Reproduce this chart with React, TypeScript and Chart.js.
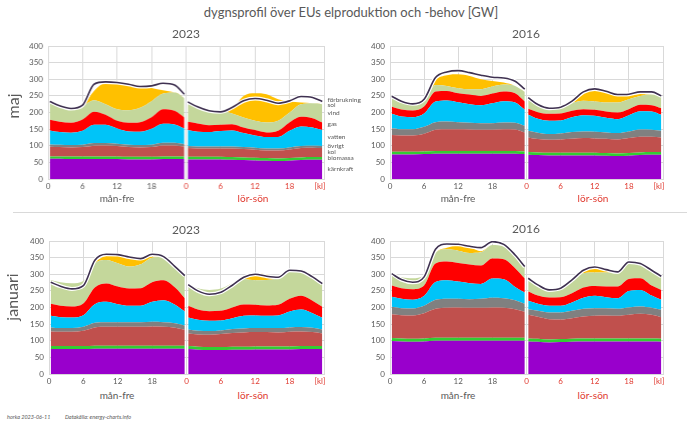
import React, { useEffect, useRef } from "react";
import { Chart, registerables } from "chart.js";
Chart.register(...registerables);

// hour positions of the profile points in each day (day 2 is shifted by 24)
const HOURS = [0.3, 2, 4, 6, 8, 10, 12, 14, 16, 18, 20, 22, 23.7];
const X_TICKS = [0, 6, 12, 18, 24, 30, 36, 42, 47.3, 48];
const Y_TICKS_STEP = 50;

// ---------- maj 2023 (13 values mån-fre, then 13 values lör-sön) [GW]
const maj2023_karnkraft = [61, 61, 60, 60, 60, 60, 60, 59, 59, 59, 60, 60, 60, 59, 59, 59, 59, 58, 57, 56, 55, 54, 55, 57, 58, 58];
const maj2023_biomassa = [7, 7, 8, 8, 8, 8, 8, 8, 8, 8, 8, 8, 8, 8, 8, 8, 8, 8, 8, 8, 8, 8, 8, 8, 8, 8];
const maj2023_kol = [29, 28, 27, 28, 32, 33, 31, 29, 28, 29, 33, 33, 30, 26, 25, 25, 25, 26, 25, 24, 23, 24, 26, 28, 28, 27];
const maj2023_ovrigt = [7, 7, 7, 7, 8, 7, 7, 7, 7, 7, 8, 8, 7, 6, 6, 6, 6, 6, 6, 6, 6, 6, 6, 6, 6, 6];
const maj2023_vatten = [42, 38, 37, 42, 55, 55, 46, 40, 40, 48, 57, 55, 47, 48, 44, 43, 46, 48, 42, 37, 34, 34, 50, 59, 55, 48];
const maj2023_gas = [32, 31, 30, 34, 39, 30, 23, 26, 29, 35, 44, 41, 33, 25, 25, 21, 19, 19, 17, 16, 14, 19, 25, 29, 28, 23];
const maj2023_vind = [52, 47, 41, 41, 35, 32, 35, 38, 43, 48, 47, 55, 58, 58, 48, 45, 42, 32, 30, 28, 30, 30, 30, 38, 45, 55];
const maj2023_sol = [0, 0, 0, 0, 28, 65, 83, 82, 68, 40, 10, 0, 0, 0, 0, 0, 0, 15, 65, 83, 85, 65, 33, 5, 0, 0];
const maj2023_forbrukning = [233, 220, 212, 222, 285, 292, 290, 285, 278, 280, 288, 283, 255, 232, 217, 205, 202, 215, 235, 242, 237, 228, 235, 248, 245, 233];

// ---------- maj 2016
const maj2016_karnkraft = [74, 74, 74, 75, 76, 76, 76, 76, 76, 76, 76, 76, 75, 73, 72, 71, 71, 71, 71, 71, 70, 69, 70, 72, 73, 73];
const maj2016_biomassa = [8, 8, 8, 8, 8, 8, 8, 8, 8, 8, 8, 8, 8, 8, 8, 8, 8, 8, 8, 8, 8, 8, 8, 8, 8, 8];
const maj2016_kol = [50, 49, 49, 53, 64, 66, 66, 65, 64, 64, 66, 65, 57, 44, 40, 39, 40, 42, 44, 43, 43, 42, 45, 47, 46, 44];
const maj2016_ovrigt = [21, 19, 19, 21, 23, 23, 21, 20, 20, 20, 20, 20, 20, 20, 19, 17, 18, 20, 20, 20, 19, 19, 20, 22, 21, 20];
const maj2016_vatten = [43, 38, 36, 40, 62, 63, 60, 56, 54, 60, 64, 61, 48, 48, 42, 40, 39, 45, 49, 48, 44, 42, 49, 55, 55, 48];
const maj2016_gas = [21, 21, 20, 21, 30, 29, 27, 29, 28, 29, 29, 28, 25, 18, 20, 21, 21, 19, 18, 18, 19, 20, 18, 19, 19, 20];
const maj2016_vind = [28, 20, 20, 19, 20, 15, 15, 16, 20, 21, 21, 22, 29, 29, 21, 19, 21, 23, 25, 25, 27, 30, 30, 27, 32, 35];
const maj2016_sol = [0, 0, 0, 0, 14, 32, 42, 40, 30, 17, 6, 0, 0, 0, 0, 0, 0, 5, 30, 39, 33, 24, 13, 6, 0, 0];
const maj2016_forbrukning = [249, 234, 226, 240, 305, 322, 326, 320, 312, 306, 304, 294, 270, 245, 224, 213, 216, 234, 262, 271, 264, 254, 255, 262, 262, 250];

// ---------- januari 2023
const jan2023_karnkraft = [75, 75, 75, 75, 76, 76, 76, 76, 76, 76, 76, 76, 76, 75, 73, 72, 72, 73, 73, 74, 74, 74, 74, 75, 75, 75];
const jan2023_biomassa = [9, 9, 9, 9, 9, 9, 9, 9, 9, 9, 9, 9, 9, 9, 9, 9, 9, 9, 9, 9, 9, 9, 9, 9, 9, 9];
const jan2023_kol = [44, 43, 43, 46, 55, 57, 57, 57, 57, 58, 57, 54, 48, 38, 37, 37, 39, 41, 43, 43, 43, 42, 44, 44, 42, 38];
const jan2023_ovrigt = [12, 11, 11, 12, 14, 14, 14, 14, 14, 14, 14, 14, 13, 12, 11, 11, 11, 12, 12, 12, 12, 13, 13, 13, 13, 12];
const jan2023_vatten = [35, 33, 32, 35, 56, 61, 54, 49, 49, 60, 66, 55, 42, 36, 33, 31, 30, 33, 38, 38, 37, 38, 48, 53, 44, 35];
const jan2023_gas = [36, 34, 33, 35, 50, 55, 53, 52, 53, 59, 60, 52, 40, 35, 31, 29, 29, 32, 34, 32, 31, 32, 38, 41, 37, 33];
const jan2023_vind = [72, 71, 70, 68, 73, 71, 70, 66, 72, 74, 70, 65, 69, 64, 64, 64, 67, 72, 77, 74, 77, 81, 87, 79, 74, 70];
const jan2023_sol = [0, 0, 0, 0, 2, 12, 25, 29, 18, 3, 0, 0, 0, 0, 0, 0, 0, 0, 4, 22, 16, 3, 0, 0, 0, 0];
const jan2023_forbrukning = [276, 264, 256, 266, 342, 360, 359, 352, 347, 360, 353, 323, 296, 269, 250, 240, 246, 267, 291, 300, 294, 291, 312, 310, 292, 272];

// ---------- januari 2016
const jan2016_karnkraft = [99, 98, 97, 98, 100, 100, 100, 100, 100, 100, 100, 100, 100, 98, 97, 95, 96, 97, 98, 98, 98, 98, 98, 98, 98, 97];
const jan2016_biomassa = [9, 9, 9, 9, 9, 9, 9, 9, 9, 9, 9, 9, 9, 9, 9, 9, 9, 9, 9, 9, 9, 9, 9, 9, 9, 9];
const jan2016_kol = [72, 70, 70, 76, 87, 90, 91, 90, 90, 91, 90, 86, 78, 71, 66, 61, 59, 62, 66, 68, 69, 68, 71, 74, 71, 65];
const jan2016_ovrigt = [22, 21, 21, 22, 27, 27, 26, 26, 27, 29, 29, 27, 24, 17, 18, 20, 21, 22, 23, 23, 22, 21, 22, 22, 21, 22];
const jan2016_vatten = [30, 28, 26, 30, 54, 56, 52, 48, 45, 58, 57, 40, 34, 25, 21, 20, 20, 25, 33, 37, 33, 32, 50, 50, 37, 30];
const jan2016_gas = [34, 32, 32, 31, 55, 56, 56, 56, 55, 60, 60, 56, 42, 28, 25, 25, 26, 28, 31, 30, 32, 35, 36, 35, 30, 30];
const jan2016_vind = [35, 33, 33, 31, 32, 37, 37, 35, 40, 41, 38, 36, 36, 35, 30, 26, 27, 37, 43, 40, 42, 42, 46, 42, 44, 39];
const jan2016_sol = [0, 0, 0, 0, 0, 5, 15, 17, 3, 0, 0, 0, 0, 0, 0, 0, 0, 0, 4, 15, 8, 0, 0, 0, 0, 0];
const jan2016_forbrukning = [302, 284, 276, 292, 375, 391, 390, 384, 380, 398, 390, 358, 323, 288, 268, 253, 258, 283, 312, 322, 314, 307, 337, 332, 312, 294];

const SERIES_NAMES = ["kärnkraft", "biomassa", "kol", "övrigt", "vatten", "gas", "vind", "sol"];
const SERIES_COLORS = ["#9900cc", "#33cc33", "#c0504d", "#808080", "#00c4f8", "#ff0000", "#c4d79b", "#ffc000"];
const LOAD_COLOR = "#3f3151";
const LEGEND_LABELS = ["förbrukning", "sol", "vind", "gas", "vatten", "övrigt", "kol", "biomassa", "kärnkraft"];

const GRAY = "#595959";
const RED = "#e0392f";
const GRID = "#d9d9d9";
const FONT = "Lato, 'Open Sans', sans-serif";

type Rect = { left: number; right: number; top: number; bottom: number };

const YW = 30, PT = 8, PR = 8, XH = 14;

function dayPoints(values: number[], day: number) {
  const part = values.slice(day * 13, day * 13 + 13);
  return part.map((v, i) => ({ x: HOURS[i] + day * 24, y: v }));
}

function Panel({ rect, series, load }: { rect: Rect; series: number[][]; load: number[] }) {
  const ref = useRef<HTMLCanvasElement | null>(null);
  const w = rect.right - rect.left + YW + PR;
  const h = rect.bottom - rect.top + PT + XH;
  useEffect(() => {
    if (!ref.current) return;
    const datasets: any[] = [];
    for (let d = 0; d < 2; d++) {
      datasets.push({
        label: "förbrukning", data: dayPoints(load, d), borderColor: LOAD_COLOR, borderWidth: 1.6,
        fill: false, stack: "L" + d, order: 0, cubicInterpolationMode: "monotone", pointRadius: 0,
      });
    }
    for (let d = 0; d < 2; d++) {
      datasets.push({
        label: "halo", data: dayPoints(load, d), borderColor: "#ffffff", borderWidth: 4,
        fill: false, stack: "H" + d, order: 1, cubicInterpolationMode: "monotone", pointRadius: 0,
      });
    }
    for (let d = 0; d < 2; d++) {
      series.forEach((vals, k) => {
        datasets.push({
          label: SERIES_NAMES[k], data: dayPoints(vals, d), backgroundColor: SERIES_COLORS[k],
          borderColor: SERIES_COLORS[k], borderWidth: 0, fill: k === 0 ? "origin" : "-1",
          stack: "S" + d, order: 2, cubicInterpolationMode: "monotone", pointRadius: 0,
        });
      });
    }
    const chart = new Chart(ref.current, {
      type: "line",
      data: { datasets },
      options: {
        animation: false,
        responsive: false,
        maintainAspectRatio: false,
        layout: { padding: { left: 0, right: PR, top: PT, bottom: 0 } },
        plugins: { legend: { display: false }, tooltip: { enabled: false } },
        scales: {
          x: {
            type: "linear", min: 0, max: 48,
            afterBuildTicks: (s: any) => { s.ticks = X_TICKS.map((v) => ({ value: v })); },
            afterFit: (s: any) => { s.height = XH; s.paddingLeft = 0; s.paddingRight = 0; },
            ticks: {
              autoSkip: false, maxRotation: 0, padding: 3,
              font: { family: FONT, size: 8 },
              color: (c: any) => (c.tick && c.tick.value >= 24 ? RED : GRAY),
              callback: (v: any) => {
                const n = Number(v);
                if (n === 48) return "";
                if (n === 47.3) return "[kl]";
                return String(n >= 24 ? n - 24 : n);
              },
            },
            grid: {
              color: (c: any) => (c.tick && c.tick.value === 47.3 ? "rgba(0,0,0,0)" : GRID),
              drawTicks: false,
            },
            border: { color: GRID },
          },
          y: {
            stacked: true, min: 0, max: 400,
            afterFit: (s: any) => { s.width = YW; s.paddingTop = 0; s.paddingBottom = 0; },
            ticks: { stepSize: Y_TICKS_STEP, padding: 5, font: { family: FONT, size: 8 }, color: GRAY },
            grid: { color: GRID, drawTicks: false },
            border: { display: false },
          },
        },
      },
    } as any);
    return () => chart.destroy();
  }, []);
  return (
    <canvas
      ref={ref}
      width={w}
      height={h}
      style={{ position: "absolute", left: rect.left - YW, top: rect.top - PT, width: w, height: h }}
    />
  );
}

function T({ x, y, size, color = GRAY, children, anchor = "center", rotate = 0, italic = false }: any) {
  const tx = anchor === "center" ? "-50%" : "0";
  return (
    <div
      style={{
        position: "absolute", left: x, top: y, fontFamily: FONT, fontSize: size, color,
        lineHeight: 1, whiteSpace: "nowrap", fontStyle: italic ? "italic" : "normal",
        transform: `translate(${tx}, -50%) rotate(${rotate}deg)`,
      }}
    >
      {children}
    </div>
  );
}

const PANELS = [
  { rect: { left: 48.3, right: 323.7, top: 45.7, bottom: 178.7 },
    series: [maj2023_karnkraft, maj2023_biomassa, maj2023_kol, maj2023_ovrigt, maj2023_vatten, maj2023_gas, maj2023_vind, maj2023_sol],
    load: maj2023_forbrukning },
  { rect: { left: 390, right: 663, top: 45.7, bottom: 178.7 },
    series: [maj2016_karnkraft, maj2016_biomassa, maj2016_kol, maj2016_ovrigt, maj2016_vatten, maj2016_gas, maj2016_vind, maj2016_sol],
    load: maj2016_forbrukning },
  { rect: { left: 48.5, right: 323.5, top: 240.7, bottom: 374.3 },
    series: [jan2023_karnkraft, jan2023_biomassa, jan2023_kol, jan2023_ovrigt, jan2023_vatten, jan2023_gas, jan2023_vind, jan2023_sol],
    load: jan2023_forbrukning },
  { rect: { left: 390, right: 663, top: 240.7, bottom: 374.3 },
    series: [jan2016_karnkraft, jan2016_biomassa, jan2016_kol, jan2016_ovrigt, jan2016_vatten, jan2016_gas, jan2016_vind, jan2016_sol],
    load: jan2016_forbrukning },
];

const LEGEND_Y = [100, 104.5, 113.3, 124.3, 137.3, 145.7, 152.3, 157.7, 169.3];

export default function App() {
  return (
    <div style={{ position: "absolute", left: 0, top: 0, width: 700, height: 424, background: "#fff", overflow: "hidden" }}>
      {PANELS.map((p, i) => (
        <Panel key={i} rect={p.rect} series={p.series} load={p.load} />
      ))}
      <T x={351} y={12} size={13}>dygnsprofil över EUs elproduktion och -behov [GW]</T>
      <T x={186} y={34} size={12}>2023</T>
      <T x={526} y={34} size={12}>2016</T>
      <T x={186} y={230} size={12}>2023</T>
      <T x={526} y={229} size={12}>2016</T>
      <T x={13} y={106} size={16} rotate={-90}>maj</T>
      <T x={12} y={297} size={16} rotate={-90}>januari</T>
      <T x={117} y={198} size={10}>mån-fre</T>
      <T x={253} y={198} size={10} color={RED}>lör-sön</T>
      <T x={458} y={198} size={10}>mån-fre</T>
      <T x={593} y={198} size={10} color={RED}>lör-sön</T>
      <T x={117} y={395} size={10}>mån-fre</T>
      <T x={253} y={395} size={10} color={RED}>lör-sön</T>
      <T x={458} y={395} size={10}>mån-fre</T>
      <T x={593} y={395} size={10} color={RED}>lör-sön</T>
      {LEGEND_LABELS.map((l, i) => (
        <T key={l} x={327.5} y={LEGEND_Y[i]} size={6.5} anchor="left">{l}</T>
      ))}
      <div style={{ position: "absolute", left: 13, top: 211.5, width: 674, height: 1.5, background: GRID }} />
      <T x={7} y={418} size={5.5} anchor="left" italic>horka 2023-06-11</T>
      <T x={65} y={418} size={5.5} anchor="left" italic>Datakälla: energy-charts.info</T>
    </div>
  );
}
